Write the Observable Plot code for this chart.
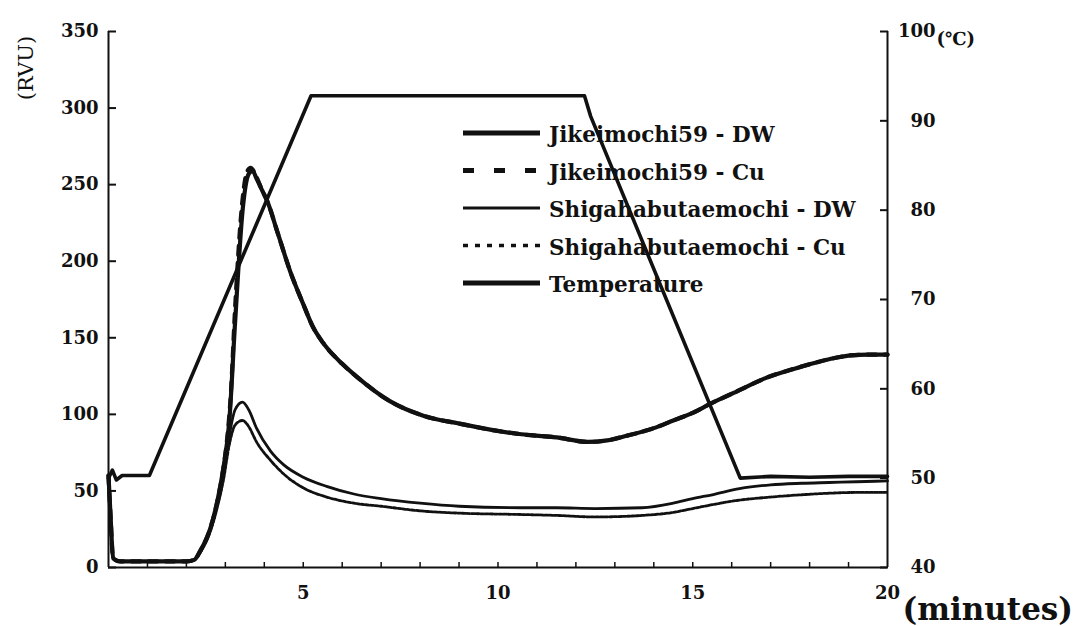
<!DOCTYPE html>
<html><head><meta charset="utf-8">
<script src="https://cdn.jsdelivr.net/npm/d3@7"></script>
<script src="https://cdn.jsdelivr.net/npm/@observablehq/plot@0.6"></script>
<style>body{margin:0;background:#fff}#chart{width:1085px;height:626px}</style>
</head><body><div id="chart"></div>
<script>
// ---- data (time in minutes, viscosity in RVU, temperature in °C) ----
const jikeiDW_t = [0,0.05,0.12,0.3,1,1.5,2,2.2,2.36,2.62,2.8,2.95,3.1,3.25,3.45,3.6,3.7,3.8,3.95,4.08,4.35,4.67,5,5.25,5.5,6,6.4,7.2,8.1,9,9.8,10.6,11.5,12.3,12.8,13.3,14,14.5,15,15.46,16.05,16.9,17.77,18.5,19.05,19.5,20];
const jikeiDW_v = [60,35,6,4,4,4,4,5,11,26,44,65,95,160,235,257,259,254,246,239,218,193,172,157,147,133,124,109,99,94,90,87,85,82,83,86,91,96,101,107,114,124,131,136,138.5,139,139];
const jikeiCu_t = [0,0.05,0.12,0.3,1,1.5,2,2.2,2.36,2.62,2.8,2.95,3.05,3.13,3.26,3.44,3.55,3.65,3.78,3.95,4.08,4.35,4.67,5,5.25,5.5,6,6.4,7.2,8.1,9,9.8,10.6,11.5,12.3,12.8,13.3,14,14.5,15,15.46,16.05,16.9,17.77,18.5,19.05,19.5,20];
const jikeiCu_v = [60,35,6,4,4,4,4,5,11,26,44,65,85,109,174,240,258,261,256,246,239,218,193,172,157,147,133,124,109,99,94,90,87,85,82,83,86,91,96,101,107,114,124,131,136,138.5,139,139];
const shigaDW_t = [0,0.05,0.12,0.3,1,1.5,2,2.2,2.36,2.62,2.8,2.95,3.1,3.25,3.44,3.6,3.8,4.16,4.5,5,5.6,6.3,7,8,9,10.6,11.5,12.5,13.7,14.5,15,15.5,16.2,17,17.8,18.5,19.2,20];
const shigaDW_v = [60,33,6,4,4,4,4,5,11,25,42,60,86,103,108,103,91,76,67,59,53,48,45,42,40,39,39,38.5,39,42,45,47.5,51.5,54,55,55.5,56,56.5];
const shigaCu_t = [0,0.05,0.12,0.3,1,1.5,2,2.2,2.36,2.62,2.8,2.95,3.1,3.25,3.44,3.6,3.8,4.16,4.5,5,5.6,6.3,7,8,9,10.6,11.5,12.5,13.7,14.5,15,15.5,16.2,17,17.8,18.5,19.2,20];
const shigaCu_v = [60,33,6,4,4,4,4,5,10,24,40,57,80,93,96,92,82,70,61,52,46,42,40,37,35.5,34.6,34,33,34,36,38.5,41,44,46,47.5,48.5,49,49];
const temp_t = [0,0.1,0.2,0.35,1.05,5.2,12.22,12.38,16.22,17,18,19,20];
const temp_c = [50,50.9,49.8,50.3,50.3,92.8,92.8,90.5,50,50.2,50.1,50.2,50.2];

const rvuTicks = [0,50,100,150,200,250,300,350];
const tempTicks = [40,50,60,70,80,90,100];
const minuteTicks = [5,10,15,20];
const minorMinuteTicks = [1,2,3,4,5,6,7,8,9,10,11,12,13,14,15,16,17,18,19];
const legendLabels = ["Jikeimochi59 - DW","Jikeimochi59 - Cu","Shigahabutaemochi - DW","Shigahabutaemochi - Cu","Temperature"];

// ---- helpers ----
const FONT = "DejaVu Serif";
const INK = "#111";
const toR = c => (c - 40) / 60 * 350;       // temperature -> left-axis units
const series = (t, v) => t.map((x, i) => ({t: x, v: v[i]}));

const styles = [
  {strokeWidth: 4.2, dash: null},
  {strokeWidth: 4.2, dash: "9,8"},
  {strokeWidth: 2.8, dash: null},
  {strokeWidth: 2.8, dash: "3,1.6"},
  {strokeWidth: 3.6, dash: null}
];

const data = [
  series(jikeiDW_t, jikeiDW_v),
  series(jikeiCu_t, jikeiCu_v),
  series(shigaDW_t, shigaDW_v),
  series(shigaCu_t, shigaCu_v),
  series(temp_t, temp_c.map(toR))
];

const lineMarks = data.map((d, i) => Plot.line(d, {
  x: "t", y: "v", stroke: INK,
  strokeWidth: styles[i].strokeWidth,
  strokeDasharray: styles[i].dash,
  curve: i === 4 ? "linear" : "monotone-x",
  strokeLinejoin: "round"
}));

const plot = Plot.plot({
  width: 1085, height: 626,
  marginLeft: 108, marginRight: 198, marginTop: 31, marginBottom: 59,
  style: {fontFamily: FONT, fontSize: "18px", color: INK, background: "#fff"},
  x: {domain: [0, 20], label: null},
  y: {domain: [0, 350], label: null},
  marks: [
    Plot.ruleX([0, 20], {stroke: INK, strokeWidth: 2}),
    Plot.ruleY([0], {stroke: INK, strokeWidth: 2}),
    Plot.axisY({anchor: "left", ticks: rvuTicks, tickSize: -8, tickPadding: 18, label: null, fontWeight: "bold", strokeWidth: 2}),
    Plot.axisY({anchor: "right", ticks: tempTicks.map(toR), tickFormat: () => "", tickSize: -8, label: null, strokeWidth: 2}),
    Plot.text(tempTicks, {y: toR, text: d => String(d), frameAnchor: "right", dx: 48, textAnchor: "end", fontSize: 18, fontWeight: "bold"}),
    Plot.axisX({ticks: minorMinuteTicks, tickSize: -5, tickFormat: () => "", label: null, strokeWidth: 1.5}),
    Plot.axisX({ticks: minuteTicks, tickSize: 0, tickPadding: 19, label: null, fontWeight: "bold"}),
    ...lineMarks,
    Plot.text(["(℃)"], {text: d => d, frameAnchor: "top-right", dx: 49, dy: 1, textAnchor: "start", fontSize: 18, fontWeight: "bold"}),
    Plot.text(["(minutes)"], {text: d => d, frameAnchor: "bottom-right", dx: 15, dy: 52, textAnchor: "start", lineAnchor: "bottom", fontSize: 31, fontWeight: "bold"})
  ]
});

// ---- y-axis title and legend ----
const svg = d3.select(plot);
svg.append("text").attr("transform", "translate(33,68) rotate(-90)")
  .attr("text-anchor", "middle").attr("font-family", FONT).attr("font-size", 21).attr("fill", INK)
  .text("(RVU)");

const lg = svg.append("g").attr("font-family", FONT).attr("font-size", 21.5).attr("font-weight", "bold")
  .attr("fill", INK).attr("text-anchor", "start");
legendLabels.forEach((label, i) => {
  const y = 133 + i * 37.5;
  lg.append("line").attr("x1", 463).attr("x2", 540).attr("y1", y).attr("y2", y)
    .attr("stroke", INK).attr("stroke-width", i === 2 ? 3 : (i === 3 ? 3.5 : 5))
    .attr("stroke-dasharray", i === 1 ? "11,20" : (i === 3 ? "5,7" : null));
  lg.append("text").attr("x", 549).attr("y", y + 9).text(label);
});

document.getElementById("chart").appendChild(plot);
</script>
</body></html>
